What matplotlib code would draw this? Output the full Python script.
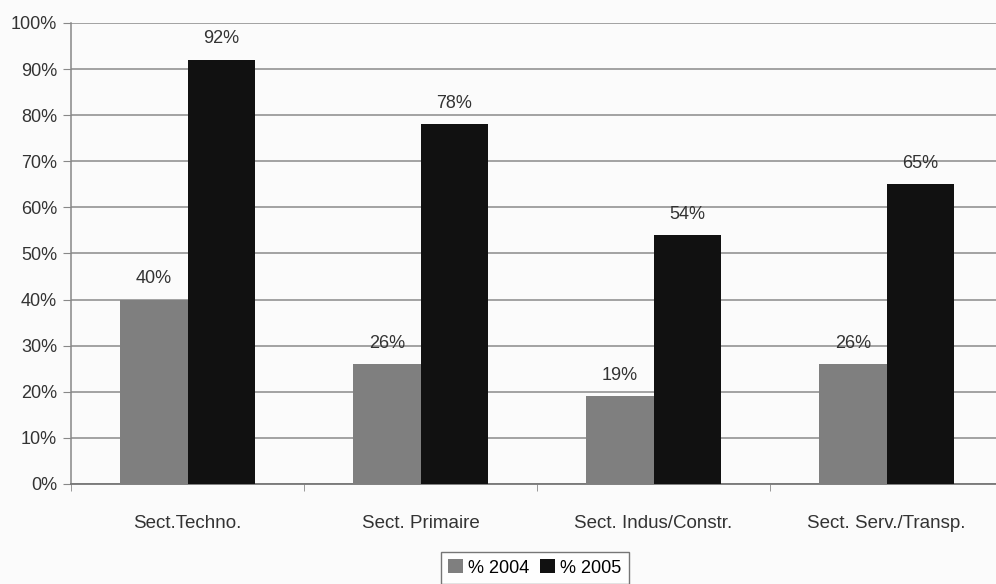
import matplotlib
matplotlib.use("Agg")
import matplotlib.pyplot as plt
import numpy as np
from matplotlib.ticker import FuncFormatter, FixedLocator

categories = ["Sect.Techno.", "Sect. Primaire", "Sect. Indus/Constr.", "Sect. Serv./Transp."]
values_2004 = [40, 26, 19, 26]
values_2005 = [92, 78, 54, 65]
series_names = ["% 2004", "% 2005"]

plt.rcParams['font.family'] = ['Liberation Sans', 'DejaVu Sans']

fig = plt.figure(figsize=(9.96, 5.84), dpi=100)
fig.patch.set_facecolor('#fbfbfb')
ax = fig.add_axes([71/996, 1 - 484/584, 932/996, 461/584])
ax.set_facecolor('none')

x = np.arange(len(categories))
w = 0.29
b1 = ax.bar(x - w/2, values_2004, w, color='#7f7f7f', label=series_names[0], zorder=3)
b2 = ax.bar(x + w/2, values_2005, w, color='#111111', label=series_names[1], zorder=3)

for bars, vals in ((b1, values_2004), (b2, values_2005)):
    for r, v in zip(bars, vals):
        ax.annotate(f"{v}%", (r.get_x() + r.get_width()/2, v), xytext=(0, 9),
                    textcoords='offset points', ha='center', va='bottom',
                    fontsize=13, color='#333333')

ax.set_xlim(-0.5, len(categories) - 0.5)
ax.set_ylim(0, 100)
ax.yaxis.set_major_locator(FixedLocator(np.arange(0, 101, 10)))
ax.yaxis.set_major_formatter(FuncFormatter(lambda v, p: f"{int(v)}%"))
ax.grid(axis='y', color='#8a8a8a', linewidth=1.1, zorder=0)

ax.set_xticks(x)
ax.set_xticklabels(categories, fontsize=13.5, color='#333333')
ax.xaxis.set_minor_locator(FixedLocator(np.arange(-0.5, len(categories), 1)))
ax.tick_params(axis='x', which='major', length=0, pad=22)
ax.tick_params(axis='x', which='minor', length=5, color='#888888', direction='out')
ax.tick_params(axis='y', length=6, color='#888888', labelsize=13, labelcolor='#333333', pad=4)

for s in ('top', 'right'):
    ax.spines[s].set_visible(False)
ax.spines['left'].set_color('#888888')
ax.spines['bottom'].set_color('#777777')
ax.spines['left'].set_linewidth(1.1)
ax.spines['bottom'].set_linewidth(1.3)

leg = fig.legend(handles=[b1, b2], labels=series_names, loc='center',
                 bbox_to_anchor=(535/996, 1 - 568/584), ncol=2, frameon=True,
                 fontsize=13, handlelength=0.8, handleheight=0.8, handletextpad=0.3,
                 columnspacing=0.6, borderpad=0.4, fancybox=False)
leg.get_frame().set_edgecolor('#555555')
leg.get_frame().set_linewidth(1.0)
leg.get_frame().set_facecolor('white')

fig.savefig("out.png", dpi=100, facecolor=fig.get_facecolor())
